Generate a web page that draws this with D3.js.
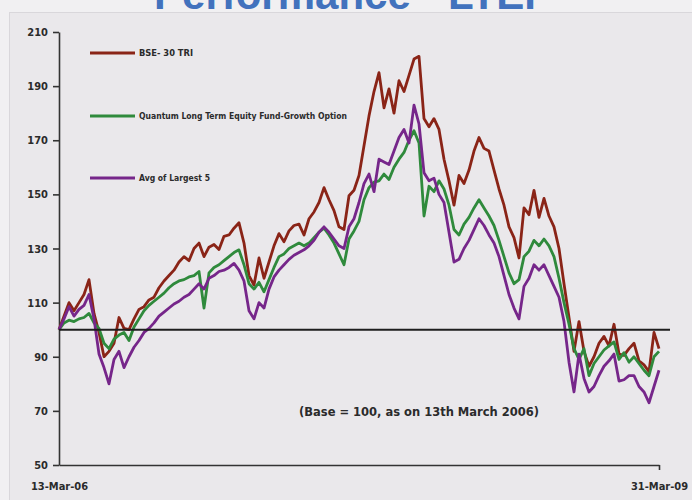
<!DOCTYPE html>
<head>
<meta charset="utf-8">
<title>Performance - LTEF</title>
<style>
  body { margin: 0; background: #f1f0f2; }
  svg { display: block; }
  .lbl { font-family: "Liberation Sans Narrow", "DejaVu Sans Condensed", Arial, sans-serif; font-weight: bold; fill: #2b2b2b; }
  .axis text { font-family: "Liberation Sans Narrow", "DejaVu Sans Condensed", Arial, sans-serif; font-weight: bold; font-size: 11px; fill: #2b2b2b; }
  .axis path, .axis line { stroke: #333; stroke-width: 1.6; }
</style>
</head>

<div id="chart"></div>

<script src="https://cdn.jsdelivr.net/npm/d3@7"></script>
<script>
// series values, one every ~1/120 of the period 13-Mar-06 .. 31-Mar-09
const bse = [100,105,110,107,110,113,118.5,106,99,90,92,95,104.5,100.5,100,104,107.5,108.5,111,112,
  115.5,118,120,122,125,127,125.5,130,132,127,130.5,131.5,129.6,134.5,135,137.5,139.5,132,120,116.5,
  126.5,119,125,131,135.5,132.5,136.5,138.5,139,135,141,143.5,147,152.5,148,144,138,137,149.5,151.5,
  157,168,179,188,195,182,189,180,192,188,194,200,201,178,175,178,174,163,155,146,
  157,154,159,166,171,167,166,159,152,146,138,134,126.5,145,142.5,151.5,141.5,148.5,142,138,
  130,117,104.5,92,103,92,86.5,90,95,97.5,94,102,91,90.5,93,95,88.5,87,84.5,99,93];

const quantum = [100,102.5,103.5,103,104,104.5,106,102.5,100.5,95,93,96.5,98,99,96,101,104,107,109,110.5,
  112,113.5,115.5,117,118,118.5,119.5,120,121.5,108,121,123,124,125.5,127,128.5,129.5,124,117,115,
  117.5,114,118.5,123,127,128,130,131,132,131,132,134,136,137.5,135,132,128,124,133.5,136.5,
  140,148,152.5,154.5,155,157.5,155.5,160,163,165.5,170,173.5,169,142,153,151,155,152,146,137,
  135,139,141.5,145,148,145,142,138.5,133,127,121,117,118.5,127,129,133,131,133.5,131,127,
  119,110,102,93,89,93,83,87.5,90,92.5,94,95.5,89,91.5,88,90,87.5,85,83,90,92];

const largest5 = [100,104,108.5,105,107.5,109,113,104,91,86,80,89,92,86,90,93.5,96,99,100.5,102.5,
  105,106.5,108,109.5,110.5,112,113,115,117,115,119,120,121.5,122,123,124.5,122,118,107,104,
  110,108,115,119.5,122,124,126,127.5,128.5,129.5,131,133,136,138,136,133.5,131,130,138,141,
  147,154,157.5,151,163,162,161,166,171,174,169,183,176,158,155,156,150,147,136,125,
  126,130,133,137,141,138.5,135,132,127,120,113,108,104,116,119,124,122,124,120,116,
  112,103,88,77,91,82,77,79,83,86.5,88.5,91,81,81.5,83,83,79,77,73,79,85];

const seriesNames = ["BSE- 30 TRI", "Quantum Long Term Equity Fund-Growth Option", "Avg of Largest 5"];
const seriesColors = ["#8a2417", "#2f8a3c", "#76268a"];
const yTicks = [50, 70, 90, 110, 130, 150, 170, 190, 210];
const xTickLabels = ["13-Mar-06", "31-Mar-09"];
const baseValue = 100;

const W = 692, H = 500;
const svg = d3.select("#chart").append("svg").attr("width", W).attr("height", H);

// panel
svg.append("rect").attr("x", 9.5).attr("y", 12.5).attr("width", W).attr("height", H)
  .attr("fill", "#eae8eb").attr("stroke", "#d9d7db");

// title, mostly cropped off the top as in the slide
svg.append("text").attr("x", 352).attr("y", 9).attr("text-anchor", "middle")
  .attr("font-family", "Arial, 'Liberation Sans', sans-serif").attr("font-weight", "bold")
  .attr("font-size", 42).attr("fill", "#4272bd").text("Performance - LTEF");

const n = bse.length;
const x = d3.scaleLinear().domain([0, n - 1]).range([59, 659]);
const y = d3.scaleLinear().domain([50, 210]).range([465, 32]);

// y axis
svg.append("g").attr("class", "axis").attr("transform", "translate(59,0)")
  .call(d3.axisLeft(y).tickValues(yTicks).tickSize(6).tickSizeOuter(0).tickPadding(5));

// x axis
const xAxis = svg.append("g").attr("class", "axis").attr("transform", "translate(0,465)")
  .call(d3.axisBottom(x).tickValues([0, n - 1]).tickSize(5).tickSizeOuter(0).tickPadding(12)
    .tickFormat((d, i) => xTickLabels[i]));
xAxis.selectAll(".tick line").filter((d, i) => i === 0).remove();

// lines
const line = d3.line().x((d, i) => x(i)).y(d => y(d));
[bse, quantum, largest5].forEach((s, k) => {
  svg.append("path").datum(s).attr("d", line)
    .attr("fill", "none").attr("stroke", seriesColors[k])
    .attr("stroke-width", 2.8).attr("stroke-linejoin", "round");
});

// base line at 100
svg.append("line").attr("x1", 59).attr("x2", 670).attr("y1", y(baseValue)).attr("y2", y(baseValue))
  .attr("stroke", "#1e1e1e").attr("stroke-width", 2);

// legend
const legendY = [53, 116, 178];
const legendW = [54, 208, 71];
seriesNames.forEach((name, k) => {
  svg.append("line").attr("x1", 90).attr("x2", 135).attr("y1", legendY[k]).attr("y2", legendY[k])
    .attr("stroke", seriesColors[k]).attr("stroke-width", 3);
  svg.append("text").attr("class", "lbl").attr("x", 139).attr("y", legendY[k] + 3)
    .attr("font-size", 8.5).attr("textLength", legendW[k]).attr("lengthAdjust", "spacingAndGlyphs")
    .text(name);
});

// note
svg.append("text").attr("class", "lbl").attr("x", 299).attr("y", 416)
  .attr("font-size", 12).attr("textLength", 240).attr("lengthAdjust", "spacingAndGlyphs")
  .text("(Base = 100, as on 13th March 2006)");
</script>
